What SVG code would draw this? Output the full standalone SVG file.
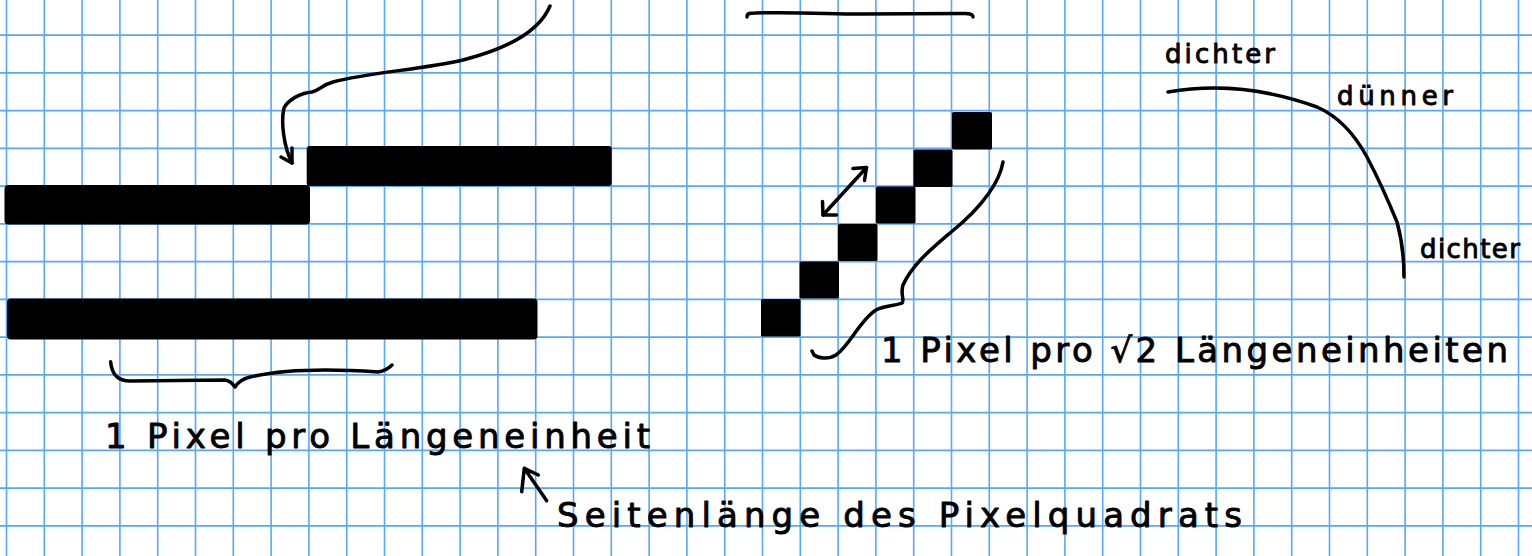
<svg xmlns="http://www.w3.org/2000/svg" width="1532" height="556" viewBox="0 0 1532 556">
<style>
.grid{stroke:#56a8f8;stroke-width:1.6;fill:none}
.bar{fill:#000}
.px{fill:#000}
.ink{stroke:#000;stroke-width:3.5;fill:none;stroke-linecap:round;stroke-linejoin:round}
.hw{font-family:"DejaVu Sans","Liberation Sans",sans-serif;fill:#000;stroke:#000;stroke-width:0.9;stroke-linejoin:round}
.big{font-size:34px}
.small{font-size:26px}
</style>
<rect width="1532" height="556" fill="#fff"/>
<g id="grid">
<path class="grid" d="M6.5,0V556M44.3,0V556M82.1,0V556M119.9,0V556M157.7,0V556M195.5,0V556M233.3,0V556M271.1,0V556M308.9,0V556M346.7,0V556M384.5,0V556M422.3,0V556M460.1,0V556M497.9,0V556M535.7,0V556M573.5,0V556M611.3,0V556M649.1,0V556M686.9,0V556M724.7,0V556M762.5,0V556M800.3,0V556M838.1,0V556M875.9,0V556M913.7,0V556M951.5,0V556M989.3,0V556M1027.1,0V556M1064.9,0V556M1102.7,0V556M1140.5,0V556M1178.3,0V556M1216.1,0V556M1253.9,0V556M1291.7,0V556M1329.5,0V556M1367.3,0V556M1405.1,0V556M1442.9,0V556M1480.7,0V556M1518.5,0V556"/>
<path class="grid" d="M0,35.1H1532M0,72.85H1532M0,110.6H1532M0,148.35H1532M0,186.1H1532M0,223.85H1532M0,261.6H1532M0,299.35H1532M0,337.1H1532M0,374.85H1532M0,412.6H1532M0,450.35H1532M0,488.1H1532M0,525.85H1532"/>
</g>
<g id="bar-upper-left"><rect class="bar" x="4.5" y="185" width="305.5" height="39.5" rx="4"/></g>
<g id="bar-upper-right"><rect class="bar" x="306.7" y="146" width="305" height="40" rx="3"/></g>
<g id="bar-lower"><rect class="bar" x="7" y="298.5" width="530.5" height="41" rx="4"/></g>
<g id="diagonal-pixels">
<rect class="px" x="952" y="112" width="40" height="37.5" rx="1.5"/>
<rect class="px" x="913.5" y="149.5" width="39" height="37.5" rx="1.5"/>
<rect class="px" x="876" y="186.5" width="39.5" height="37" rx="1.5"/>
<rect class="px" x="838" y="224" width="39.5" height="37" rx="1.5"/>
<rect class="px" x="799.5" y="261.5" width="39.5" height="37" rx="1.5"/>
<rect class="px" x="761" y="299" width="39.5" height="37.5" rx="1.5"/>
</g>
<g id="connectors">
<path class="ink" d="M550,6 C540,30 510,48 463,60 C420,70 370,72 333,82 C322,85 320,90 312,92 C300,93 288,100 284,108 C281,120 283,145 292,163"/>
<path class="ink" d="M281,157 L292,163 L292,148"/>
<path class="ink" d="M747,17 C747,13 750,13 755,13 C800,12 830,14 860,14 L965,13.5 C970,13.5 973,14 973,17"/>
<path class="ink" d="M110.6,361.7 C112,375 118,381 130,381 L225,380 C230,381 233,384 235,387 C238,382 242,379 250,377 C280,370 320,368 378,372 C385,371 389,368 392,365"/>
<path class="ink" d="M823,215 L866.5,167.5"/>
<path class="ink" d="M853,168.5 L866.5,167.5 L864.5,180.5"/>
<path class="ink" d="M822.5,201.5 L823,215 L836.5,215"/>
<path class="ink" d="M1003,162 C1000,180 985,205 950,233 C930,250 912,265 903,285 C900,295 905,300 902,303 C895,306 885,305 876,310 C860,320 850,345 836,355 C828,360 818,358 814,355 L812,351"/>
<path class="ink" d="M1168,92 C1215,84 1265,88 1317,107 C1340,117 1355,135 1367,157 C1378,178 1388,200 1397,222 C1402,240 1404,260 1404,277"/>
<path class="ink" d="M546.7,500.7 L524.3,468.3 L521.7,491.7 M524.3,468.3 L538.3,475"/>
</g>
<g id="label-1px-per-unit"><text class="hw big" x="105" y="448" textLength="545" lengthAdjust="spacing">1 Pixel pro Längeneinheit</text></g>
<g id="label-1px-per-sqrt2"><text class="hw big" x="881" y="362" textLength="627" lengthAdjust="spacing">1 Pixel pro √2 Längeneinheiten</text></g>
<g id="label-side-length"><text class="hw big" x="557" y="527" textLength="685" lengthAdjust="spacing">Seitenlänge des Pixelquadrats</text></g>
<g id="label-dichter-top"><text class="hw small" x="1165" y="63" textLength="110" lengthAdjust="spacing">dichter</text></g>
<g id="label-duenner"><text class="hw small" x="1337" y="105" textLength="116" lengthAdjust="spacing">dünner</text></g>
<g id="label-dichter-bottom"><text class="hw small" x="1420" y="258" textLength="100" lengthAdjust="spacing">dichter</text></g>
</svg>
